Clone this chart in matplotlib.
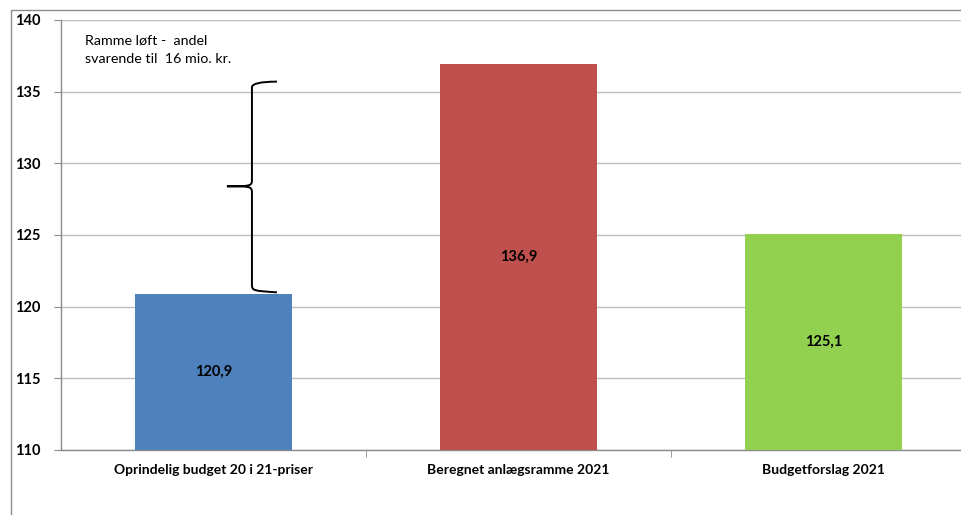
import matplotlib.pyplot as plt
import numpy as np
from matplotlib.path import Path
from matplotlib.patches import PathPatch, Rectangle

plt.rcParams.update({
    "font.family": ["Lato", "DejaVu Sans"],
    "font.size": 10,
})

categories = ["Oprindelig budget 20 i 21-priser", "Beregnet anlægsramme 2021", "Budgetforslag 2021"]
values = [120.9, 136.9, 125.1]
value_labels = ["120,9", "136,9", "125,1"]
colors = ["#4F81BD", "#C0504D", "#92D050"]
yticks = [110, 115, 120, 125, 130, 135, 140]
note = "Ramme løft -  andel\nsvarende til  16 mio. kr."
brace_low, brace_high = 121.1, 135.7

fig = plt.figure(figsize=(9.61, 5.15), dpi=100)
ax = fig.add_axes([61 / 961, 1 - 450 / 515, 915 / 961, 430 / 515])

# outer chart border (cropped at right/bottom)
fig.patches.append(Rectangle((11 / 961, -0.1), 1.2, 1 - 10 / 515 + 0.1,
                             transform=fig.transFigure, fill=False,
                             edgecolor="#8C8C8C", linewidth=1.0))

x = np.arange(len(categories))
ax.bar(x, [v - 110 for v in values], bottom=110, width=0.515, color=colors, zorder=3)
for xi, v, lab in zip(x, values, value_labels):
    ax.text(xi, (110 + v) / 2, lab, ha="center", va="center", fontsize=10.5,
            fontweight="bold", color="black", zorder=4)

ax.set_xlim(-0.5, 2.5)
ax.set_ylim(110, 140)
ax.set_yticks(yticks)
ax.set_yticklabels([str(t) for t in yticks], fontweight="bold", fontsize=10.5)
ax.grid(axis="y", color="#BEBEBE", linewidth=1.0, zorder=0)

ax.set_xticks(x)
ax.set_xticklabels(categories, fontweight="bold", fontsize=10)
ax.tick_params(axis="x", length=0, pad=10)
ax.set_xticks([0.5, 1.5, 2.5], minor=True)
ax.tick_params(axis="x", which="minor", length=5, color="#8C8C8C", direction="out")
ax.tick_params(axis="y", length=5, color="#8C8C8C", pad=10)

for s in ["top", "right"]:
    ax.spines[s].set_visible(False)
for s in ["left", "bottom"]:
    ax.spines[s].set_color("#8C8C8C")
    ax.spines[s].set_linewidth(1.0)

# curly brace
bx, tip, hook = 0.126, 0.044, 0.208
mid = (brace_low + brace_high) / 2
verts = [
    (hook, brace_high), (bx, brace_high), (bx, brace_high - 0.4),
    (bx, mid + 0.4),
    (bx, mid), (bx - 0.01, mid), (tip, mid),
    (bx - 0.01, mid), (bx, mid), (bx, mid - 0.4),
    (bx, brace_low + 0.4),
    (bx, brace_low), (bx + 0.01, brace_low), (hook, brace_low - 0.1),
]
codes = [Path.MOVETO, Path.CURVE3, Path.CURVE3, Path.LINETO,
         Path.CURVE4, Path.CURVE4, Path.CURVE4,
         Path.CURVE4, Path.CURVE4, Path.CURVE4,
         Path.LINETO, Path.CURVE4, Path.CURVE4, Path.CURVE4]
ax.add_patch(PathPatch(Path(verts, codes), fill=False, edgecolor="black",
                       linewidth=1.4, zorder=5))

ax.text(-0.42, 139.0, note, ha="left", va="top", fontsize=10.3, linespacing=1.65)

fig.savefig("out.png", dpi=100)
